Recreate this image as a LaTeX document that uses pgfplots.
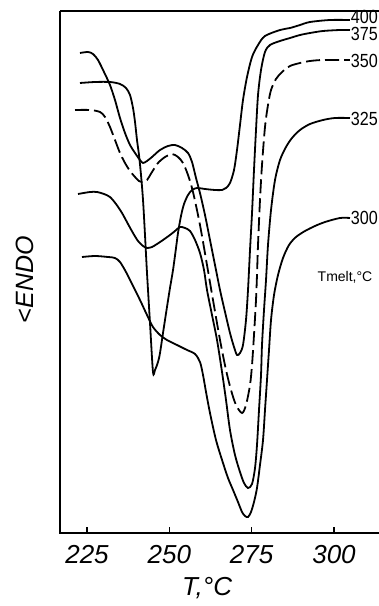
\documentclass[border=0pt]{standalone}
\usepackage{fontspec}
\setmainfont{Liberation Sans}
\usepackage{pgfplots}
\pgfplotsset{compat=1.18}
\begin{document}
\begin{tikzpicture}
\begin{axis}[
  scale only axis, width=159.5pt, height=261pt,
  xmin=216.8, xmax=313.67, ymin=0, ymax=52.2,
  axis line style={draw=none},
  xtick={225,250,275,300}, ytick=\empty,
  xtick pos=bottom, tick align=inside, major tick length=3pt,
  tick style={line width=0.8pt, black},
  /pgf/number format/assume math mode=true,
  xticklabel style={font=\fontsize{13}{13}\selectfont\itshape, anchor=center, yshift=-11pt},
  xlabel={T,°C}, ylabel={<ENDO},
  xlabel style={at={(axis description cs:0.461,-0.1054)}, anchor=center, font=\fontsize{13}{13}\selectfont\itshape},
  ylabel style={at={(axis description cs:-0.1097,0.485)}, anchor=center, font=\fontsize{12.5}{12.5}\selectfont\itshape},
  clip=false,
  cycle list={{black,mark=none}},
  every axis plot/.append style={line width=0.9pt, black, smooth, tension=0.5, mark=none},
]
\draw[line width=1pt] (rel axis cs:0,1) -- (rel axis cs:0,0) -- (rel axis cs:1,0);
\draw[line width=1pt] (rel axis cs:0,1) -- (rel axis cs:1,1);
% 400
\addplot[black, solid] coordinates {
(222.87,45.0) (227.43,45.1) (231.98,45.1) (235.02,44.9) (236.84,44.5) (238.06,43.8)
(238.97,42.5) (239.58,41.1) (240.18,39.3) (240.79,37.8) (241.40,35.8) (242.01,33.3)
(242.61,29.8) (243.22,26.0) (244.13,21.0) (245.04,16.1) (245.65,16.3) (246.56,17.1)
(247.17,18.0) (248.08,20.0) (249.29,22.6) (250.20,24.5) (251.12,26.3) (252.03,28.5)
(252.63,30.0) (253.54,31.7) (254.46,32.9) (255.67,33.8) (256.89,34.3) (258.40,34.5)
(260.83,34.4) (263.87,34.3) (266.00,34.3) (267.21,34.5) (268.42,35.0) (269.64,36.3)
(270.55,38.3) (271.46,40.8) (272.37,43.3) (273.59,45.6) (275.11,47.6) (276.93,48.8)
(279.05,49.7) (283.61,50.3) (286.65,50.5) (289.68,50.8) (292.72,51.1) (298.79,51.3) (304.86,51.3)
};
% 375
\addplot[black, solid] coordinates {
(222.87,48.0) (225.30,48.1) (226.82,47.9) (228.34,47.3) (230.16,46.1) (231.98,44.8)
(233.50,43.3) (235.02,41.5) (236.54,40.0) (238.06,38.8) (239.58,38.0) (241.09,37.3)
(242.01,37.0) (243.22,37.2) (244.74,37.6) (247.17,38.3) (249.60,38.7) (251.72,38.8)
(253.85,38.5) (255.67,38.0) (256.89,37.1) (258.10,35.5) (259.31,34.0) (260.83,31.8)
(262.35,29.3) (263.87,26.8) (265.39,24.3) (266.91,22.1) (268.42,20.0) (269.64,18.6)
(270.55,17.8) (271.46,18.0) (272.37,18.8) (273.28,21.3) (273.89,24.3) (274.50,28.3)
(275.11,32.0) (275.71,36.3) (276.32,40.3) (276.93,43.8) (277.84,46.3) (279.05,48.1)
(280.57,48.8) (283.61,49.2) (286.65,49.5) (289.68,49.8) (292.72,50.0) (296.67,50.2)
(301.83,50.3) (304.86,50.3)
};
% 350
\addplot[black, dash pattern=on 7pt off 2.5pt] coordinates {
(221.36,42.3) (225.91,42.3) (228.95,42.1) (230.47,41.6) (231.98,40.6) (233.50,39.3)
(235.02,38.0) (236.54,37.0) (238.06,36.2) (239.58,35.6) (240.79,35.2) (242.01,35.1)
(243.22,35.3) (244.74,36.1) (246.56,37.0) (248.69,37.6) (250.81,37.9) (252.63,37.6)
(254.15,37.0) (255.67,35.8) (257.19,34.1) (259.31,30.8) (261.44,26.8) (263.26,23.3)
(265.39,19.3) (267.21,16.3) (268.73,14.3) (270.25,12.8) (272.07,12.0) (273.28,12.8)
(274.50,14.8) (275.11,16.8) (275.71,19.8) (276.32,23.3) (276.62,25.8) (276.93,28.8)
(277.53,33.3) (278.14,36.8) (279.05,40.6) (279.96,42.8) (280.88,44.3) (282.39,45.4)
(284.22,46.1) (286.65,46.7) (289.68,47.0) (292.72,47.2) (296.67,47.3) (304.86,47.3)
};
% 325
\addplot[black, solid] coordinates {
(222.27,33.9) (225.91,34.1) (228.04,34.1) (230.16,33.9) (231.98,33.6) (233.81,32.9)
(235.63,32.0) (237.45,30.9) (238.97,30.0) (240.49,29.2) (242.01,28.7) (243.22,28.5)
(244.74,28.6) (246.26,28.9) (248.08,29.3) (250.20,29.8) (251.72,30.2) (253.24,30.6)
(254.76,30.5) (256.28,30.2) (257.80,29.3) (259.31,28.0) (260.53,26.3) (261.44,24.3)
(262.96,21.8) (264.48,19.3) (266.00,16.1) (267.21,13.3) (268.42,10.3) (269.94,7.8)
(271.46,6.1) (272.68,5.0) (273.89,4.5) (275.11,4.9) (276.02,6.5) (276.62,8.8)
(277.23,12.3) (277.84,15.8) (278.14,18.8) (278.75,22.3) (279.36,25.3) (279.96,28.8)
(280.88,32.3) (282.09,35.3) (283.61,37.3) (285.43,38.6) (287.25,39.5) (289.68,40.3)
(292.72,40.9) (296.67,41.3) (300.31,41.5) (304.86,41.5)
};
% 300
\addplot[black, solid] coordinates {
(223.48,27.6) (227.43,27.7) (231.38,27.6) (233.50,27.5) (235.02,27.1) (236.84,26.1)
(238.67,24.9) (241.09,23.3) (243.22,21.8) (245.04,20.6) (247.17,19.8) (249.29,19.3)
(252.33,18.8) (255.37,18.3) (257.80,17.9) (259.31,17.1) (260.23,15.8) (261.14,14.1)
(262.35,12.0) (264.17,9.3) (266.30,7.0) (267.82,5.5) (269.34,4.3) (270.85,3.1)
(272.07,2.1) (272.98,1.7) (273.89,1.6) (274.80,2.1) (275.71,3.1) (276.62,4.5)
(277.53,6.8) (278.45,9.3) (279.05,12.3) (279.66,15.3) (280.27,18.3) (280.88,21.3)
(281.79,23.8) (283.00,25.8) (284.52,27.5) (286.34,28.8) (288.47,29.6) (291.20,30.2)
(294.24,30.7) (297.27,31.1) (301.83,31.5) (304.86,31.5)
};
\begin{scope}[every node/.style={anchor=west, inner sep=0pt, font=\fontsize{9.5}{9.5}\selectfont}]
\node at (axis cs:305.0,51.6) {\scalebox{0.85}[1]{400}};
\node at (axis cs:305.0,49.9) {\scalebox{0.85}[1]{375}};
\node at (axis cs:305.0,47.2) {\scalebox{0.85}[1]{350}};
\node at (axis cs:305.0,41.4) {\scalebox{0.85}[1]{325}};
\node at (axis cs:305.0,31.5) {\scalebox{0.85}[1]{300}};
\end{scope}
\node[anchor=center, font=\fontsize{7}{7}\selectfont] at (axis cs:303.35,25.6) {Tmelt,°C};
\end{axis}
\pgfresetboundingbox
\path[use as bounding box] (-30pt,-36.5pt) rectangle (159.5pt,266.5pt);
\end{tikzpicture}
\end{document}
